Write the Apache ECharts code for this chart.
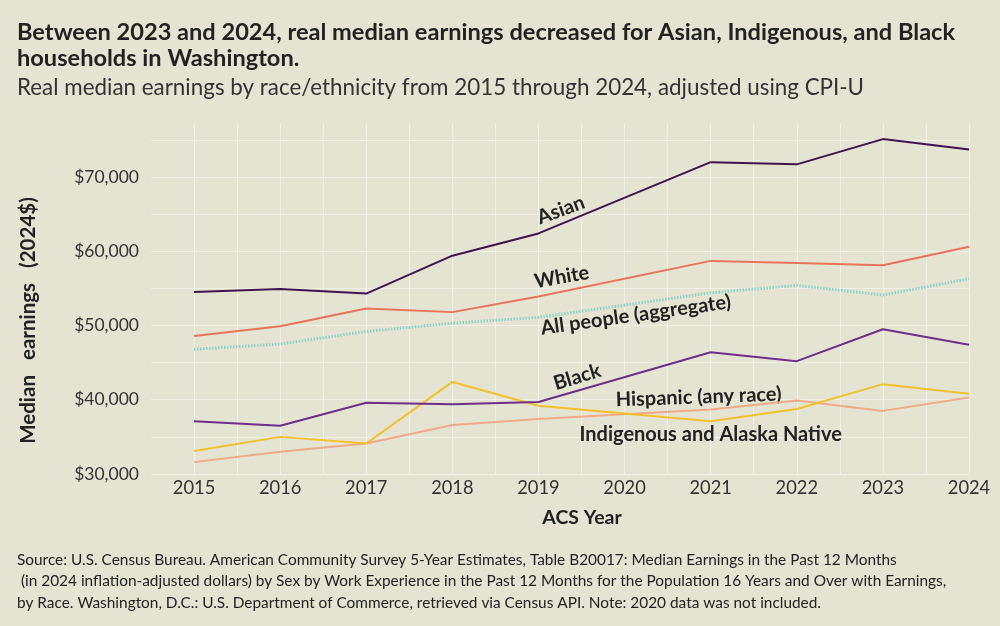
<!DOCTYPE html>
<html><head><meta charset="utf-8">
<script src="https://cdn.jsdelivr.net/npm/echarts@6/dist/echarts.min.js"></script>
<style>html,body{margin:0;padding:0;background:#e5e4d2}#c{width:1000px;height:626px}</style>
</head><body><div id="c"></div>
<script>
const years = [2015, 2016, 2017, 2018, 2019, 2021, 2022, 2023, 2024];
const asian = [54500, 54900, 54300, 59400, 62400, 72000, 71700, 75100, 73700];
const white = [48600, 49900, 52300, 51800, 53900, 58700, 58400, 58100, 60600];
const allPeople = [46800, 47500, 49200, 50300, 51100, 54400, 55400, 54100, 56300];
const black = [37100, 36500, 39600, 39400, 39700, 46400, 45200, 49500, 47400];
const hispanic = [33100, 35000, 34100, 42400, 39200, 37100, 38750, 42100, 40800];
const indigenous = [31600, 33000, 34100, 36600, 37400, 38700, 39900, 38500, 40300];
const seriesNames = ['Asian', 'White', 'All people (aggregate)', 'Black', 'Hispanic (any race)', 'Indigenous and Alaska Native'];
const labelAnchors = [[2019.26, 65550], [2019.27, 56530], [2020.13, 51410], [2019.45, 43060], [2020.86, 40370], [2021.0, 35250]];
const labelRotations = [20, 10, 8, 17, 2, 0];
const colors = ['#3d1450', '#e8735b', '#8dd3c5', '#6d2f87', '#f2c12e', '#eeab8c'];
const values = [asian, white, allPeople, black, hispanic, indigenous];

const FONT = 'Lato';
const chart = echarts.init(document.getElementById('c'), null, {renderer: 'canvas'});
const series = values.map((vals, i) => ({
  type: 'line',
  name: seriesNames[i],
  data: years.map((y, j) => [y, vals[j]]),
  showSymbol: false,
  symbol: 'none',
  lineStyle: {color: colors[i], width: i === 2 ? 3 : 2, type: i === 2 ? [1.5, 1.5] : 'solid'},
  z: 10 - i,
  markPoint: {
    symbol: 'circle', symbolSize: 0, silent: true,
    data: [{coord: labelAnchors[i]}],
    label: {
      show: true, position: 'inside', formatter: seriesNames[i], rotate: labelRotations[i],
      color: '#222', fontFamily: FONT, fontSize: 20, fontWeight: 'bold'
    }
  }
}));

chart.setOption({
  backgroundColor: '#e5e4d2',
  animation: false,
  title: [
    {text: 'Between 2023 and 2024, real median earnings decreased for Asian, Indigenous, and Black\nhouseholds in Washington.',
     left: 12, top: 14, textStyle: {fontFamily: FONT, fontSize: 23.6, fontWeight: 'bold', color: '#222', lineHeight: 26}},
    {text: 'Real median earnings by race/ethnicity from 2015 through 2024, adjusted using CPI-U',
     left: 12, top: 72, textStyle: {fontFamily: FONT, fontSize: 22.4, fontWeight: 'normal', color: '#333'}},
    {text: 'Source: U.S. Census Bureau. American Community Survey 5-Year Estimates, Table B20017: Median Earnings in the Past 12 Months\n (in 2024 inflation-adjusted dollars) by Sex by Work Experience in the Past 12 Months for the Population 16 Years and Over with Earnings,\nby Race. Washington, D.C.: U.S. Department of Commerce, retrieved via Census API. Note: 2020 data was not included.',
     left: 12, top: 544, textStyle: {fontFamily: FONT, fontSize: 15.4, fontWeight: 'normal', color: '#222', lineHeight: 21.5}}
  ],
  grid: {left: 151, right: 31, top: 123, bottom: 152, containLabel: false},
  xAxis: {
    type: 'value', min: 2014.5, max: 2024, interval: 0.5,
    axisLine: {show: false}, axisTick: {show: false},
    splitLine: {show: true, showMinLine: false, lineStyle: {color: 'rgba(255,255,255,0.45)', width: 1}},
    axisLabel: {formatter: v => (Math.abs(v - Math.round(v)) < 1e-6 ? String(Math.round(v)) : ''),
      color: '#333', fontFamily: FONT, fontSize: 18.3, margin: 5, showMinLabel: false},
    name: 'ACS Year', nameLocation: 'middle', nameGap: 34,
    nameTextStyle: {fontFamily: FONT, fontSize: 19.5, fontWeight: 'bold', color: '#222', padding: [0, 0, 0, 44]}
  },
  yAxis: {
    type: 'value', min: 30000, max: 77270, interval: 5000,
    axisLine: {show: false}, axisTick: {show: false},
    splitLine: {show: true, showMaxLine: false, lineStyle: {color: 'rgba(255,255,255,0.45)', width: 1}},
    axisLabel: {formatter: v => (v % 10000 === 0 ? '$' + v.toLocaleString('en-US') : ''),
      color: '#333', fontFamily: FONT, fontSize: 17.5, margin: 12, showMaxLabel: false},
    name: 'Median   earnings   (2024$)', nameLocation: 'middle', nameRotate: 90, nameGap: 112,
    nameTextStyle: {fontFamily: FONT, fontSize: 20.5, fontWeight: 'bold', color: '#222', padding: [0, 44, 0, 0]}
  },
  series: series
});
</script></body></html>
